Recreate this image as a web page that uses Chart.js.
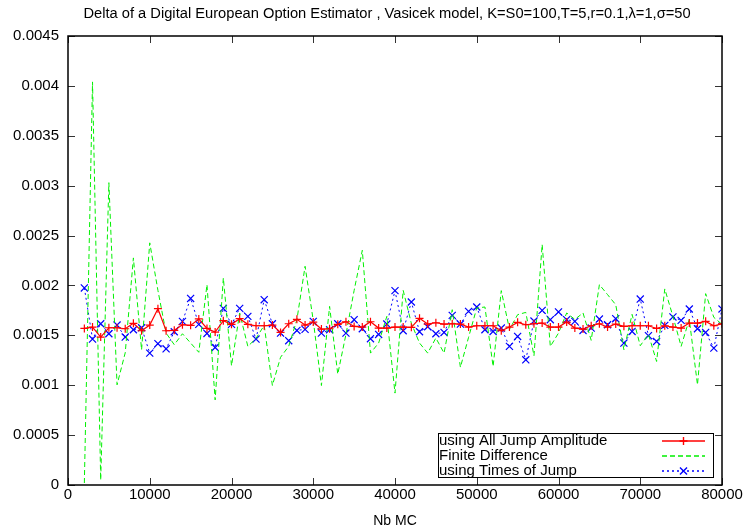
<!DOCTYPE html>
<html>
<head>
<meta charset="utf-8">
<script src="https://cdn.jsdelivr.net/npm/chart.js@4.4.1/dist/chart.umd.min.js"></script>
<style>
  html, body { margin: 0; padding: 0; background: #fff; }
  #wrap { width: 747px; height: 530px; position: relative; }
</style>
</head>
<body>
<div id="wrap"><canvas id="chart"></canvas></div>
<script>
// Monte Carlo sample sizes
const nbMC = [
  2000, 3000, 4000, 5000, 6000, 7000, 8000, 9000, 10000, 11000,
  12000, 13000, 14000, 15000, 16000, 17000, 18000, 19000, 20000, 21000,
  22000, 23000, 24000, 25000, 26000, 27000, 28000, 29000, 30000, 31000,
  32000, 33000, 34000, 35000, 36000, 37000, 38000, 39000, 40000, 41000,
  42000, 43000, 44000, 45000, 46000, 47000, 48000, 49000, 50000, 51000,
  52000, 53000, 54000, 55000, 56000, 57000, 58000, 59000, 60000, 61000,
  62000, 63000, 64000, 65000, 66000, 67000, 68000, 69000, 70000, 71000,
  72000, 73000, 74000, 75000, 76000, 77000, 78000, 79000, 80000
];

const allJumpAmplitude = [
  0.001569, 0.001583, 0.001483, 0.001576, 0.001576, 0.001566, 0.001620, 0.001546, 0.001603, 0.001767,
  0.001546, 0.001550, 0.001606, 0.001600, 0.001664, 0.001569, 0.001533, 0.001647, 0.001610, 0.001667,
  0.001610, 0.001596, 0.001596, 0.001603, 0.001529, 0.001616, 0.001660, 0.001603, 0.001633, 0.001563,
  0.001566, 0.001610, 0.001636, 0.001589, 0.001583, 0.001636, 0.001573, 0.001573, 0.001583, 0.001583,
  0.001580, 0.001670, 0.001613, 0.001626, 0.001613, 0.001616, 0.001613, 0.001583, 0.001596, 0.001596,
  0.001596, 0.001546, 0.001583, 0.001630, 0.001606, 0.001616, 0.001623, 0.001583, 0.001583, 0.001633,
  0.001573, 0.001563, 0.001596, 0.001616, 0.001583, 0.001613, 0.001590, 0.001596, 0.001596, 0.001596,
  0.001569, 0.001596, 0.001583, 0.001573, 0.001623, 0.001623, 0.001640, 0.001596, 0.001616
];

const finiteDifference = [
  0.000020, 0.004040, 0.000050, 0.003030, 0.001004, 0.001325, 0.002276, 0.001355, 0.002427, 0.001950,
  0.001523, 0.001406, 0.001516, 0.001423, 0.001330, 0.002008, 0.000853, 0.002075, 0.001195, 0.001724,
  0.001389, 0.001470, 0.001600, 0.000997, 0.001280, 0.001390, 0.001657, 0.002192, 0.001650, 0.000997,
  0.001790, 0.001111, 0.001510, 0.001950, 0.002352, 0.001322, 0.001423, 0.001690, 0.000921, 0.001951,
  0.001620, 0.001423, 0.001322, 0.001473, 0.001322, 0.001757, 0.001180, 0.001480, 0.001774, 0.001784,
  0.001188, 0.001948, 0.001560, 0.001707, 0.001730, 0.001295, 0.002410, 0.001389, 0.001523, 0.001724,
  0.001660, 0.001724, 0.001450, 0.002008, 0.001908, 0.001807, 0.001355, 0.001710, 0.001396, 0.001510,
  0.001238, 0.001965, 0.001690, 0.001390, 0.001660, 0.001004, 0.001918, 0.001680, 0.001610
];

const timesOfJump = [
  0.001975, 0.001463, 0.001616, 0.001516, 0.001603, 0.001483, 0.001556, 0.001576, 0.001322, 0.001416,
  0.001365, 0.001536, 0.001640, 0.001870, 0.001610, 0.001519, 0.001378, 0.001770, 0.001610, 0.001770,
  0.001690, 0.001463, 0.001857, 0.001616, 0.001522, 0.001446, 0.001549, 0.001560, 0.001640, 0.001522,
  0.001556, 0.001616, 0.001522, 0.001657, 0.001566, 0.001466, 0.001509, 0.001613, 0.001948, 0.001546,
  0.001834, 0.001536, 0.001586, 0.001516, 0.001529, 0.001700, 0.001613, 0.001740, 0.001784, 0.001556,
  0.001539, 0.001573, 0.001389, 0.001489, 0.001255, 0.001643, 0.001750, 0.001657, 0.001734, 0.001657,
  0.001640, 0.001549, 0.001573, 0.001663, 0.001606, 0.001667, 0.001423, 0.001539, 0.001864, 0.001496,
  0.001439, 0.001600, 0.001684, 0.001650, 0.001764, 0.001566, 0.001529, 0.001372, 0.001764
];

const xTicks = [0, 10000, 20000, 30000, 40000, 50000, 60000, 70000, 80000];
const yTicks = [0, 0.0005, 0.001, 0.0015, 0.002, 0.0025, 0.003, 0.0035, 0.004, 0.0045];
const yTickLabels = ['0', '0.0005', '0.001', '0.0015', '0.002', '0.0025', '0.003', '0.0035', '0.004', '0.0045'];

const TITLE = 'Delta of a Digital European Option Estimator , Vasicek model, K=S0=100,T=5,r=0.1,λ=1,σ=50';
const FONT = "'Liberation Sans', Arial, Helvetica, sans-serif";
const RED = '#ff0000', GREEN = '#00f000', BLUE = '#0000ff';

const pts = arr => arr.map((v, i) => ({ x: nbMC[i], y: v }));

// title centred over the plot frame, like gnuplot does
const titlePlugin = {
  id: 'plotTitle',
  afterDraw(chart) {
    const { ctx, chartArea: a } = chart;
    ctx.save();
    ctx.font = '14.7px ' + FONT;
    ctx.fillStyle = '#000';
    ctx.textAlign = 'center';
    ctx.textBaseline = 'middle';
    ctx.fillText(TITLE, (a.left + a.right) / 2 - 8, 14);
    ctx.restore();
  }
};

// gnuplot style frame with inward ticks on all four sides
const framePlugin = {
  id: 'frame',
  afterDatasetsDraw(chart) {
    const { ctx, chartArea: a, scales } = chart;
    ctx.save();
    ctx.strokeStyle = '#333';
    ctx.lineWidth = 1;
    ctx.beginPath();
    xTicks.forEach(v => {
      const px = Math.round(scales.x.getPixelForValue(v)) + 0.5;
      ctx.moveTo(px, a.bottom); ctx.lineTo(px, a.bottom - 7);
      ctx.moveTo(px, a.top); ctx.lineTo(px, a.top + 7);
    });
    yTicks.forEach(v => {
      const py = Math.round(scales.y.getPixelForValue(v)) + 0.5;
      ctx.moveTo(a.left, py); ctx.lineTo(a.left + 7, py);
      ctx.moveTo(a.right, py); ctx.lineTo(a.right - 7, py);
    });
    ctx.stroke();
    ctx.strokeStyle = '#000';
    ctx.lineWidth = 1.5;
    ctx.strokeRect(a.left, a.top, a.right - a.left, a.bottom - a.top);
    ctx.restore();
  }
};

// boxed legend in the lower right, text left and sample on the right
const legendPlugin = {
  id: 'boxLegend',
  afterDraw(chart) {
    const ctx = chart.ctx;
    const box = { x: 438.5, y: 433.5, w: 275, h: 44 };
    ctx.save();
    ctx.fillStyle = '#fff';
    ctx.fillRect(box.x, box.y, box.w, box.h);
    ctx.strokeStyle = '#000';
    ctx.lineWidth = 1;
    ctx.strokeRect(box.x, box.y, box.w, box.h);
    ctx.font = '15px ' + FONT;
    ctx.textBaseline = 'middle';
    ctx.textAlign = 'left';
    chart.data.datasets.forEach((ds, i) => {
      const cy = 441 + i * 15;
      ctx.fillStyle = '#000';
      ctx.fillText(ds.label, 439, cy);
      ctx.strokeStyle = ds.borderColor;
      ctx.lineWidth = 1.4;
      ctx.setLineDash(ds.borderDash || []);
      ctx.beginPath();
      ctx.moveTo(662, cy); ctx.lineTo(705, cy);
      ctx.stroke();
      ctx.setLineDash([]);
      if (ds.pointRadius > 0) {
        ctx.strokeStyle = ds.borderColor;
        ctx.fillStyle = ds.borderColor;
        Chart.helpers.drawPoint(ctx, {
          pointStyle: ds.pointStyle, radius: ds.pointRadius, borderWidth: 1.4, rotation: 0
        }, 683.5, cy);
      }
    });
    ctx.restore();
  }
};

new Chart(document.getElementById('chart'), {
  type: 'line',
  data: {
    datasets: [
      {
        label: 'using All Jump Amplitude',
        data: pts(allJumpAmplitude),
        borderColor: RED,
        backgroundColor: RED,
        borderWidth: 1.2,
        pointStyle: 'cross',
        pointRadius: 4,
        pointBorderWidth: 1.2,
        tension: 0
      },
      {
        label: 'Finite Difference',
        data: pts(finiteDifference),
        borderColor: GREEN,
        backgroundColor: GREEN,
        borderWidth: 1,
        borderDash: [5, 3],
        pointRadius: 0,
        tension: 0
      },
      {
        label: 'using Times of Jump',
        data: pts(timesOfJump),
        borderColor: BLUE,
        backgroundColor: BLUE,
        borderWidth: 1,
        borderDash: [2, 3],
        pointStyle: 'crossRot',
        pointRadius: 5,
        pointBorderWidth: 1.2,
        tension: 0
      }
    ]
  },
  options: {
    responsive: true,
    maintainAspectRatio: false,
    animation: false,
    layout: { padding: { left: 0, right: 25, top: 36, bottom: 0 } },
    plugins: {
      legend: { display: false },
      tooltip: { enabled: false },
      title: { display: false }
    },
    scales: {
      x: {
        type: 'linear',
        min: 0,
        max: 80000,
        afterBuildTicks: s => { s.ticks = xTicks.map(v => ({ value: v })); },
        afterFit: s => { s.height = 45; },
        grid: { display: false, drawTicks: false },
        border: { display: false },
        ticks: {
          color: '#000',
          font: { family: FONT, size: 15 },
          padding: 1,
          maxRotation: 0,
          callback: v => String(v)
        },
        title: {
          display: true,
          text: 'Nb MC',
          color: '#000',
          font: { family: FONT, size: 14 },
          padding: { top: 0, bottom: 0 }
        }
      },
      y: {
        type: 'linear',
        min: 0,
        max: 0.0045,
        afterBuildTicks: s => { s.ticks = yTicks.map(v => ({ value: v })); },
        afterFit: s => { s.width = 68; },
        grid: { display: false, drawTicks: false },
        border: { display: false },
        ticks: {
          color: '#000',
          font: { family: FONT, size: 15 },
          padding: 9,
          callback: (v, i) => yTickLabels[i]
        }
      }
    }
  },
  plugins: [framePlugin, legendPlugin, titlePlugin]
});
</script>
</body>
</html>
